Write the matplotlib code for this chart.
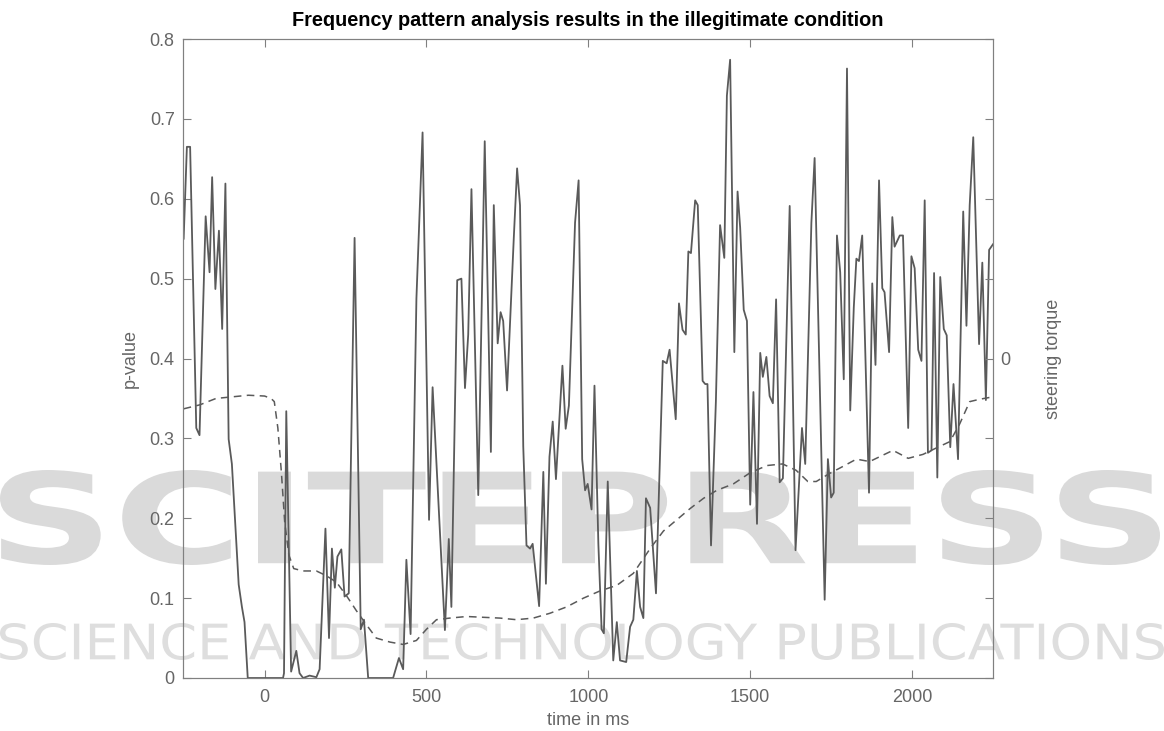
import matplotlib
matplotlib.use('Agg')
import matplotlib.pyplot as plt
from matplotlib.textpath import TextPath
from matplotlib.patches import PathPatch
from matplotlib.font_manager import FontProperties
from matplotlib.transforms import Affine2D, IdentityTransform

# p-value over time (ms)
time_ms = [-250, -240, -230, -211, -201, -182, -170, -162, -152, -141, -131, -121, -111, -101,
           -90, -80, -70, -62, -52, 57, 60, 67, 82, 98, 108, 119, 139, 160, 170, 188, 199, 208,
           217, 225, 237, 247, 260, 278, 297, 307, 320, 397, 415, 428, 438, 451, 469, 488, 508,
           519, 533, 557, 569, 577, 595, 608, 619, 629, 639, 660, 680, 699, 708, 720, 729, 737,
           749, 770, 780, 789, 799, 809, 820, 828, 848, 861, 869, 880, 890, 900, 920, 930, 940,
           959, 970, 981, 990, 998, 1010, 1019, 1031, 1041, 1048, 1060, 1077, 1088, 1098, 1117,
           1129, 1139, 1150, 1160, 1170, 1178, 1191, 1209, 1230, 1242, 1251, 1270, 1280, 1291,
           1301, 1309, 1317, 1330, 1338, 1353, 1361, 1368, 1379, 1394, 1407, 1420, 1428, 1438,
           1451, 1461, 1469, 1480, 1490, 1500, 1510, 1521, 1531, 1539, 1550, 1560, 1570, 1580,
           1591, 1601, 1622, 1640, 1660, 1670, 1689, 1699, 1730, 1740, 1750, 1758, 1768, 1778,
           1789, 1799, 1809, 1820, 1828, 1836, 1846, 1867, 1877, 1887, 1898, 1908, 1915, 1929,
           1939, 1946, 1962, 1972, 1988, 1998, 2008, 2019, 2029, 2039, 2049, 2060, 2068, 2078,
           2087, 2098, 2107, 2118, 2128, 2142, 2158, 2168, 2178, 2189, 2207, 2217, 2228, 2238,
           2250]
p_value = [0.55, 0.665, 0.665, 0.313, 0.304, 0.578, 0.508, 0.627, 0.487, 0.56, 0.437, 0.619, 0.299,
           0.268, 0.19, 0.117, 0.089, 0.07, 0.0, 0.0, 0.006, 0.334, 0.008, 0.034, 0.006, 0.0,
           0.003, 0.001, 0.011, 0.187, 0.05, 0.162, 0.113, 0.152, 0.161, 0.102, 0.106, 0.551,
           0.061, 0.073, 0.0, 0.0, 0.025, 0.011, 0.148, 0.055, 0.475, 0.683, 0.198, 0.364, 0.251,
           0.06, 0.174, 0.089, 0.498, 0.5, 0.363, 0.43, 0.612, 0.229, 0.672, 0.283, 0.592, 0.419,
           0.458, 0.447, 0.36, 0.553, 0.638, 0.592, 0.29, 0.166, 0.162, 0.168, 0.09, 0.258, 0.118,
           0.277, 0.321, 0.249, 0.391, 0.312, 0.341, 0.57, 0.623, 0.274, 0.235, 0.243, 0.211,
           0.366, 0.168, 0.061, 0.056, 0.246, 0.022, 0.07, 0.022, 0.02, 0.064, 0.073, 0.134,
           0.089, 0.075, 0.225, 0.213, 0.106, 0.397, 0.394, 0.411, 0.324, 0.469, 0.436, 0.43,
           0.534, 0.532, 0.598, 0.592, 0.372, 0.368, 0.368, 0.166, 0.346, 0.567, 0.526, 0.729,
           0.774, 0.408, 0.609, 0.564, 0.461, 0.447, 0.217, 0.358, 0.193, 0.407, 0.377, 0.402,
           0.353, 0.344, 0.474, 0.245, 0.25, 0.591, 0.16, 0.313, 0.268, 0.57, 0.651, 0.098, 0.274,
           0.226, 0.232, 0.554, 0.508, 0.374, 0.763, 0.335, 0.464, 0.525, 0.522, 0.554, 0.232,
           0.494, 0.392, 0.623, 0.488, 0.483, 0.408, 0.577, 0.54, 0.554, 0.554, 0.313, 0.528,
           0.513, 0.411, 0.397, 0.598, 0.282, 0.285, 0.507, 0.251, 0.502, 0.437, 0.429, 0.289,
           0.368, 0.274, 0.584, 0.441, 0.592, 0.677, 0.418, 0.52, 0.348, 0.536, 0.543]

# steering torque (right axis, arbitrary units around 0)
torque_time = [-250, -200, -150, -100, -50, 0, 20, 30, 41, 52, 62, 75, 90, 119, 160, 191, 222, 253,
               284, 314, 345, 387, 428, 469, 500, 531, 572, 624, 675, 727, 778, 830, 881, 933, 985,
               1036, 1088, 1139, 1191, 1232, 1273, 1314, 1356, 1397, 1448, 1500, 1552, 1600, 1642,
               1678, 1704, 1745, 1787, 1828, 1869, 1910, 1941, 1988, 2034, 2075, 2117, 2147, 2178,
               2209, 2250]
torque = [-0.63, -0.58, -0.50, -0.48, -0.46, -0.47, -0.50, -0.54, -0.87, -1.43, -2.04, -2.46, -2.63,
          -2.66, -2.66, -2.72, -2.80, -2.97, -3.16, -3.33, -3.50, -3.55, -3.58, -3.53, -3.39, -3.27,
          -3.25, -3.23, -3.24, -3.25, -3.27, -3.25, -3.19, -3.11, -3.00, -2.91, -2.84, -2.69, -2.38,
          -2.16, -2.02, -1.88, -1.75, -1.65, -1.57, -1.43, -1.34, -1.32, -1.40, -1.54, -1.54, -1.44,
          -1.35, -1.26, -1.29, -1.21, -1.15, -1.25, -1.20, -1.12, -1.04, -0.82, -0.54, -0.51, -0.48]

x_ticks = [0, 500, 1000, 1500, 2000]
y_ticks = [0, 0.1, 0.2, 0.3, 0.4, 0.5, 0.6, 0.7, 0.8]
y_labels = ['0', '0.1', '0.2', '0.3', '0.4', '0.5', '0.6', '0.7', '0.8']
torque_ticks = [-4, -3, -2, -1, 0, 1, 2, 3, 4]
torque_labels = ['', '', '', '', '0', '', '', '', '']

LINE_COLOR = '#5a5a5a'
AXIS_COLOR = '#808080'
TEXT_COLOR = '#666666'

plt.rcParams['font.family'] = ['Liberation Sans', 'DejaVu Sans']


def watermark(fig, text, box, color, weight):
    # stretch a text path so it fills a pixel box (x0, y0, x1, y1) of the figure
    tp = TextPath((0, 0), text, size=100, prop=FontProperties(family='DejaVu Sans', weight=weight))
    ext = tp.get_extents()
    x0, y0, x1, y1 = box
    tr = Affine2D().translate(-ext.x0, -ext.y0).scale((x1 - x0) / ext.width, (y1 - y0) / ext.height)
    tr = tr.translate(x0, fig.bbox.height - y1)
    patch = PathPatch(tr.transform_path(tp), facecolor=color, edgecolor='none', zorder=-5)
    fig.add_artist(patch)
    patch.set_transform(IdentityTransform())


fig = plt.figure(figsize=(11.64, 7.31), dpi=100)
watermark(fig, 'SCITEPRESS', (0, 470, 1160, 565), '#dadada', 'bold')
watermark(fig, 'SCIENCE AND TECHNOLOGY PUBLICATIONS', (0, 623, 1164, 660), '#dedede', 'normal')

ax = fig.add_axes([183 / 1164, 53 / 731, (993 - 183) / 1164, (678 - 39) / 731])
ax.patch.set_alpha(0)
ax.plot(time_ms, p_value, color=LINE_COLOR, lw=1.3)
ax.set_xlim(-252, 2250)
ax.set_ylim(0, 0.8)
ax.set_xticks(x_ticks)
ax.set_yticks(y_ticks)
ax.set_yticklabels(y_labels)
ax.tick_params(axis='x', direction='in', length=6, top=True, colors=AXIS_COLOR,
               labelcolor=TEXT_COLOR, labelsize=13, pad=8)
ax.tick_params(axis='y', direction='in', length=6, right=False, colors=AXIS_COLOR,
               labelcolor=TEXT_COLOR, labelsize=13, pad=6)
for s in ax.spines.values():
    s.set_color(AXIS_COLOR)
ax.set_xlabel('time in ms', color=TEXT_COLOR, fontsize=13, labelpad=4)
ax.set_ylabel('p-value', color=TEXT_COLOR, fontsize=13, labelpad=8)
ax.set_title('Frequency pattern analysis results in the illegitimate condition',
             fontsize=14.3, fontweight='bold', pad=9)

ax2 = ax.twinx()
ax2.plot(torque_time, torque, color=LINE_COLOR, lw=1.1, ls=(0, (5, 3.5)))
ax2.set_ylim(-4, 4)
ax2.set_yticks(torque_ticks)
ax2.set_yticklabels(torque_labels)
ax2.tick_params(axis='y', direction='in', length=6, colors=AXIS_COLOR,
                labelcolor=TEXT_COLOR, labelsize=13, pad=5)
for s in ax2.spines.values():
    s.set_color(AXIS_COLOR)
ax2.set_ylabel('steering torque', color=TEXT_COLOR, fontsize=13, labelpad=25)

fig.savefig('out.png', dpi=100)
